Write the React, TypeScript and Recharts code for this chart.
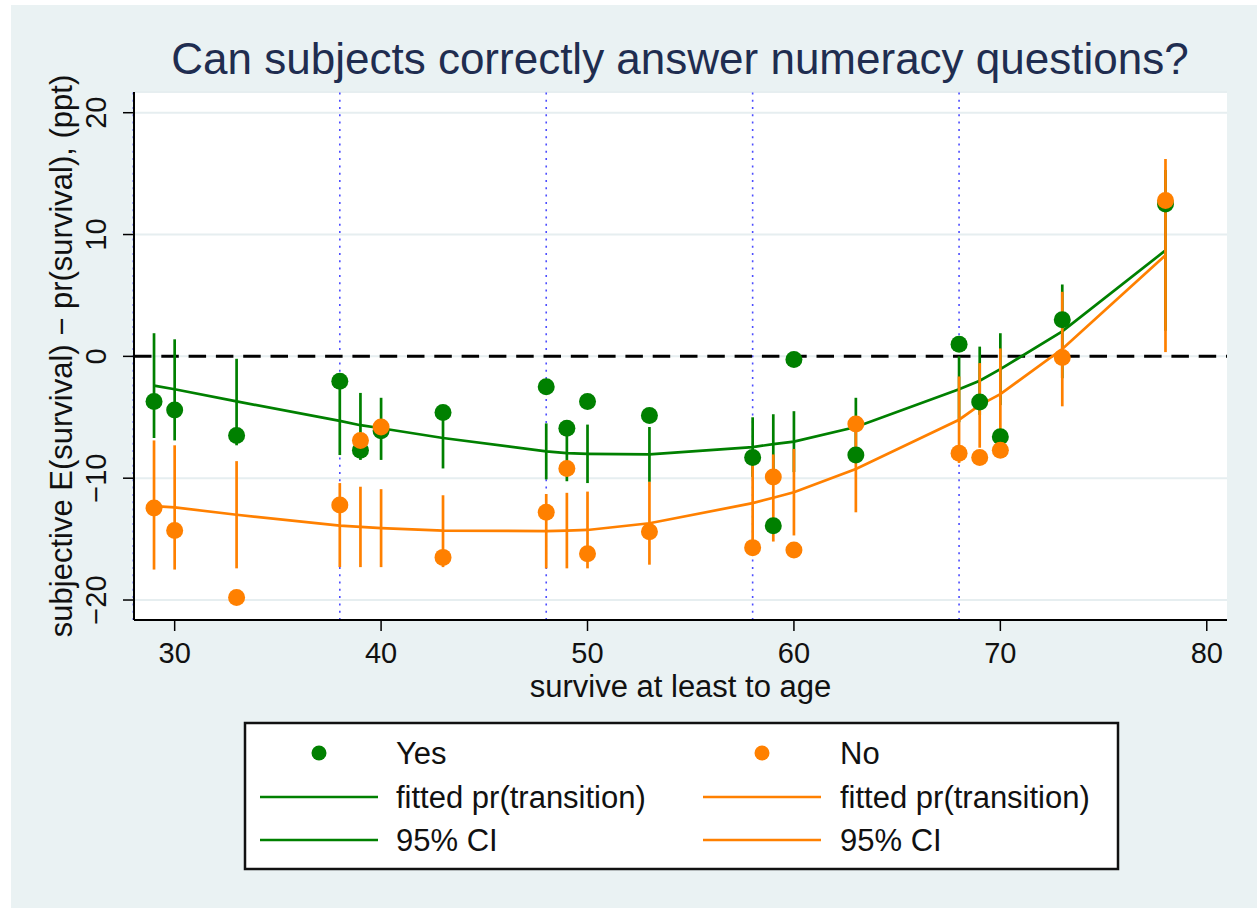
import React from "react";
import {
  ComposedChart,
  Line,
  Scatter,
  XAxis,
  YAxis,
  CartesianGrid,
  ReferenceLine,
  ErrorBar,
  Label,
} from "recharts";

// ages where subjective vs. actual survival was asked
const ages = [29, 30, 33, 38, 39, 40, 43, 48, 49, 50, 53, 58, 59, 60, 63, 68, 69, 70, 73, 78];

// "Yes" group (answered numeracy questions correctly)
const yesMean = [-3.7, -4.4, -6.5, -2.05, -7.7, -6.1, -4.6, -2.5, -5.9, -3.7, -4.85, -8.3, -13.9, -0.25, -8.1, 1.0, -3.75, -6.6, 3.0, 12.5];
const yesFit = [-2.4, -2.7, -3.7, -5.3, -5.65, -5.9, -6.7, -7.8, -7.95, -8.0, -8.05, -7.45, -7.2, -7.0, -5.8, -2.7, -2.0, -1.05, 2.05, 8.7];
const yesLo = [-6.7, -6.9, -7.3, -8.1, -8.5, -8.5, -9.2, -10.1, -10.25, -10.4, -10.3, -9.9, -9.65, -9.5, -8.2, -5.4, -4.8, -4.0, -1.8, 2.1];
const yesHi = [1.9, 1.4, -0.2, -2.5, -3.0, -3.4, -4.2, -5.5, -5.65, -5.6, -5.8, -5.0, -4.75, -4.5, -3.4, 0.0, 0.8, 1.9, 5.9, 15.3];

// "No" group
const noMean = [-12.45, -14.3, -19.8, -12.2, -6.9, -5.8, -16.5, -12.8, -9.2, -16.2, -14.4, -15.7, -9.9, -15.9, -5.55, -7.95, -8.3, -7.7, -0.1, 12.8];
const noFit = [-12.3, -12.4, -13.0, -13.9, -14.0, -14.1, -14.3, -14.35, -14.3, -14.25, -13.7, -12.05, -11.6, -11.15, -9.25, -5.2, -4.0, -3.1, 0.6, 8.3];
const noLo = [-17.5, -17.5, -17.4, -17.3, -17.3, -17.3, -17.3, -17.4, -17.4, -17.4, -17.1, -15.6, -15.2, -14.7, -12.8, -8.75, -7.5, -7.0, -4.1, 0.35];
const noHi = [-6.9, -7.3, -8.6, -10.4, -10.7, -10.9, -11.4, -11.3, -11.2, -11.1, -10.3, -8.5, -8.05, -7.6, -5.7, -1.65, -0.55, 0.65, 5.3, 16.2];

const xTicks = [30, 40, 50, 60, 70, 80];
const yTicks = [-20, -10, 0, 10, 20];
const decadeLines = [28, 38, 48, 58, 68];

const title = "Can subjects correctly answer numeracy questions?";
const xLabel = "survive at least to age";
const yLabel = "subjective E(survival) \u2212 pr(survival), (ppt)";

const GREEN = "#008000";
const ORANGE = "#ff8000";
const BG = "#eaf2f3";
const FONT = "'Liberation Sans', Arial, Helvetica, sans-serif";

const data = ages.map((age, i) => ({
  age,
  yesMean: yesMean[i],
  noMean: noMean[i],
  yesFit: yesFit[i],
  noFit: noFit[i],
  yesErr: [yesFit[i] - yesLo[i], yesHi[i] - yesFit[i]],
  noErr: [noFit[i] - noLo[i], noHi[i] - noFit[i]],
}));

const fmt = (v: number) => (v < 0 ? `\u2212${Math.abs(v)}` : `${v}`);

// eslint-disable-next-line @typescript-eslint/no-explicit-any
function XTick(props: any) {
  const { x, y, payload } = props;
  return (
    <text x={x} y={y + 30} textAnchor="middle" fontSize={29} fill="#111" fontFamily={FONT}>
      {fmt(payload.value)}
    </text>
  );
}

// eslint-disable-next-line @typescript-eslint/no-explicit-any
function YTick(props: any) {
  const { x, y, payload } = props;
  const bx = x - 15;
  return (
    <text
      x={bx}
      y={y}
      transform={`rotate(-90 ${bx} ${y})`}
      textAnchor="middle"
      fontSize={29}
      fill="#111"
      fontFamily={FONT}
    >
      {fmt(payload.value)}
    </text>
  );
}

function dot(color: string) {
  // eslint-disable-next-line @typescript-eslint/no-explicit-any
  return (p: any) => <circle cx={p.cx} cy={p.cy} r={8.5} fill={color} />;
}

function Legend() {
  const rows = [
    { y: 753, kind: "dot", text: ["Yes", "No"] },
    { y: 797, kind: "line", text: ["fitted pr(transition)", "fitted pr(transition)"] },
    { y: 840, kind: "line", text: ["95% CI", "95% CI"] },
  ];
  const cols = [
    { color: GREEN, x0: 260, x1: 378, tx: 396 },
    { color: ORANGE, x0: 703, x1: 821, tx: 840 },
  ];
  return (
    <g>
      <rect x={245} y={723} width={873} height={146} fill="#fff" stroke="#111" strokeWidth={2.5} />
      {rows.map((r, ri) =>
        cols.map((c, ci) => (
          <g key={`${ri}-${ci}`}>
            {r.kind === "dot" ? (
              <circle cx={(c.x0 + c.x1) / 2} cy={r.y} r={7.5} fill={c.color} />
            ) : (
              <line x1={c.x0} x2={c.x1} y1={r.y} y2={r.y} stroke={c.color} strokeWidth={2.7} />
            )}
            <text x={c.tx} y={r.y + 11} fontSize={31} fill="#111" fontFamily={FONT}>
              {r.text[ci]}
            </text>
          </g>
        ))
      )}
    </g>
  );
}

export default function App() {
  return (
    <div style={{ position: "absolute", left: 0, top: 0, width: 1257, height: 908, background: "#fff" }}>
      <div style={{ position: "absolute", left: 11, top: 5, width: 1246, height: 903, background: BG }}>
        <ComposedChart
          width={1246}
          height={903}
          data={data}
          margin={{ top: 87, right: 30, bottom: 200, left: 0 }}
        >
          <CartesianGrid vertical={false} fill="#fff" stroke="#e6eef0" strokeWidth={2} />
          <XAxis
            type="number"
            dataKey="age"
            domain={[28.03, 80.98]}
            allowDataOverflow
            ticks={xTicks}
            tickSize={11}
            height={88}
            tick={XTick}
            axisLine={{ stroke: "#000", strokeWidth: 2 }}
            tickLine={{ stroke: "#000", strokeWidth: 1.5 }}
            label={
              <Label
                // eslint-disable-next-line @typescript-eslint/no-explicit-any
                content={(p: any) => {
                  const vb = p.viewBox || { x: 123, y: 615, width: 1093 };
                  return (
                    <text
                      x={vb.x + vb.width / 2}
                      y={vb.y + 77}
                      textAnchor="middle"
                      fontSize={31}
                      fill="#111"
                      fontFamily={FONT}
                    >
                      {xLabel}
                    </text>
                  );
                }}
              />
            }
          />
          <YAxis
            type="number"
            domain={[-21.64, 21.7]}
            allowDataOverflow
            ticks={yTicks}
            width={123}
            tickSize={11}
            tick={YTick}
            axisLine={{ stroke: "#000", strokeWidth: 2 }}
            tickLine={{ stroke: "#000", strokeWidth: 1.5 }}
            label={
              <Label
                // eslint-disable-next-line @typescript-eslint/no-explicit-any
                content={(p: any) => {
                  const vb = p.viewBox || { x: 0, y: 87, height: 528 };
                  const cx = vb.x + 61;
                  const cy = vb.y + vb.height / 2;
                  return (
                    <text
                      x={cx}
                      y={cy}
                      transform={`rotate(-90 ${cx} ${cy})`}
                      textAnchor="middle"
                      fontSize={31}
                      fill="#111"
                      fontFamily={FONT}
                    >
                      {yLabel}
                    </text>
                  );
                }}
              />
            }
          />
          {decadeLines.map((a) => (
            <ReferenceLine
              key={a}
              x={a}
              ifOverflow="visible"
              stroke="#4d4dff"
              strokeWidth={1.6}
              strokeDasharray="2 5.3"
            />
          ))}
          <ReferenceLine y={0} stroke="#000" strokeWidth={3} strokeDasharray="17.5 9.8" />
          <Line
            type="linear"
            dataKey="yesFit"
            stroke={GREEN}
            strokeWidth={2.7}
            dot={false}
            activeDot={false}
            isAnimationActive={false}
          >
            <ErrorBar dataKey="yesErr" width={0} stroke={GREEN} strokeWidth={2.7} direction="y" />
          </Line>
          <Line
            type="linear"
            dataKey="noFit"
            stroke={ORANGE}
            strokeWidth={2.7}
            dot={false}
            activeDot={false}
            isAnimationActive={false}
          >
            <ErrorBar dataKey="noErr" width={0} stroke={ORANGE} strokeWidth={2.7} direction="y" />
          </Line>
          <Scatter dataKey="yesMean" fill={GREEN} shape={dot(GREEN)} isAnimationActive={false} />
          <Scatter dataKey="noMean" fill={ORANGE} shape={dot(ORANGE)} isAnimationActive={false} />
        </ComposedChart>
      </div>
      <svg
        width={1257}
        height={908}
        style={{ position: "absolute", left: 0, top: 0, pointerEvents: "none" }}
      >
        <text x={680} y={74} textAnchor="middle" fontSize={44} fill="#1f2d50" fontFamily={FONT}>
          {title}
        </text>
        <Legend />
      </svg>
    </div>
  );
}
